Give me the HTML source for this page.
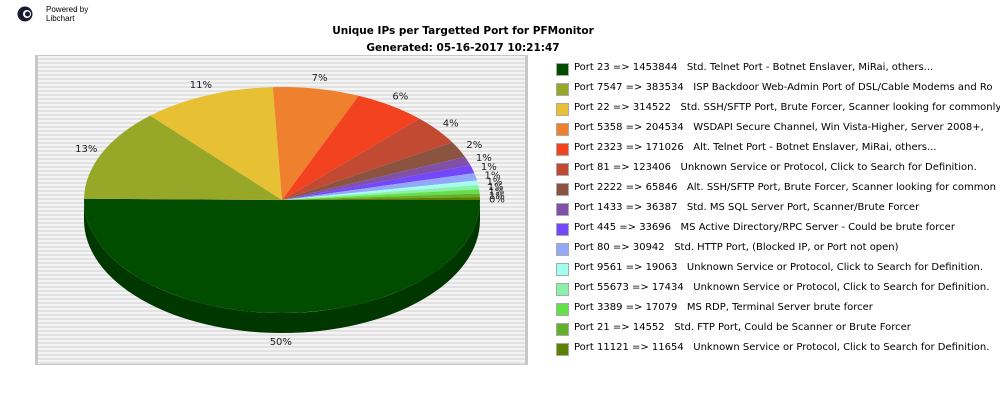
<!DOCTYPE html>
<html><head><meta charset="utf-8">
<style>
body{margin:0;width:1000px;height:400px;background:#fff;overflow:hidden;position:relative;font-family:"DejaVu Sans","Liberation Sans",sans-serif;}
#chart{position:absolute;left:0;top:0;}
#legend{position:absolute;left:0;top:0;width:1000px;height:400px;overflow:hidden;}
.lg{position:absolute;left:556px;font-size:10px;white-space:pre;color:#000;}
.sw{position:absolute;left:0;top:0;width:11px;height:11px;border:1px solid #aaa;}
.lt{position:absolute;left:18px;top:-1px;}
</style></head>
<body>
<div style="position:absolute;left:17px;top:6px;width:16px;height:16px;">
 <svg width="16" height="16"><circle cx="8" cy="8" r="7.5" fill="#1a1a2e"/><circle cx="10" cy="8" r="4" fill="#fff"/><circle cx="10.5" cy="8" r="2.5" fill="#1a1a2e"/></svg>
</div>
<div style="position:absolute;left:46px;top:5px;font-size:8px;line-height:9px;font-family:'Liberation Sans',sans-serif;">Powered by<br>Libchart</div>
<div style="position:absolute;left:0;width:926px;text-align:center;top:23px;font-size:10.5px;font-weight:bold;line-height:17px;">Unique IPs per Targetted Port for PFMonitor<br>Generated: 05-16-2017 10:21:47</div>
<svg id="chart" width="1000" height="400">
 <defs><pattern id="stripe" width="4" height="4" patternUnits="userSpaceOnUse"><rect width="4" height="4" fill="#f4f4f4"/><rect y="2" width="4" height="2" fill="#e2e2e2"/></pattern></defs>
 <rect x="35" y="55" width="493" height="310" fill="url(#stripe)"/>
 <rect x="35" y="55" width="3" height="310" fill="#c8c8c8"/>
 <rect x="525" y="55" width="3" height="310" fill="#c8c8c8"/>
 <rect x="35" y="55" width="493" height="1" fill="#c8c8c8"/>
 <rect x="35" y="364" width="493" height="1" fill="#c8c8c8"/>
 <g id="sides"></g><g id="tops"></g><g id="labels"></g>
</svg>
<div id="legend"></div>
<script>
const ports=["23","7547","22","5358","2323","81","2222","1433","445","80","9561","55673","3389","21","11121"];
const values=[1453844,383534,314522,204534,171026,123406,65846,36387,33696,30942,19063,17434,17079,14552,11654];
const descs=["Std. Telnet Port - Botnet Enslaver, MiRai, others...","ISP Backdoor Web-Admin Port of DSL/Cable Modems and Ro","Std. SSH/SFTP Port, Brute Forcer, Scanner looking for commonly","WSDAPI Secure Channel, Win Vista-Higher, Server 2008+,","Alt. Telnet Port - Botnet Enslaver, MiRai, others...","Unknown Service or Protocol, Click to Search for Definition.","Alt. SSH/SFTP Port, Brute Forcer, Scanner looking for common","Std. MS SQL Server Port, Scanner/Brute Forcer","MS Active Directory/RPC Server - Could be brute forcer","Std. HTTP Port, (Blocked IP, or Port not open)","Unknown Service or Protocol, Click to Search for Definition.","Unknown Service or Protocol, Click to Search for Definition.","MS RDP, Terminal Server brute forcer","Std. FTP Port, Could be Scanner or Brute Forcer","Unknown Service or Protocol, Click to Search for Definition."];
const colors=["#004d00","#97a828","#e8c034","#ef802d","#f2421f","#c24a32","#8b5440","#8150a8","#7348fa","#93a8f8","#a0fff0","#8cf0a8","#66e04a","#63b02a","#5e8000"];
const cx=282,cy=200,rx=198,ry=113,depth=20;
const NS="http://www.w3.org/2000/svg";
const total=values.reduce((a,b)=>a+b,0);
function pt(a,dy){return [cx+rx*Math.cos(a),cy+ry*Math.sin(a)+(dy||0)];}
function dark(c){const n=parseInt(c.slice(1),16);const f=0.7;return "rgb("+Math.round((n>>16)*f)+","+Math.round(((n>>8)&255)*f)+","+Math.round((n&255)*f)+")";}
const sides=document.getElementById('sides'),tops=document.getElementById('tops'),labels=document.getElementById('labels');
let a=0;
values.forEach((v,i)=>{
  const span=v/total*2*Math.PI,a1=a,a2=a+span;a=a2;
  const s1=Math.max(a1,0),s2=Math.min(a2,Math.PI);
  if(s2>s1){
    const p1=pt(s1),p2=pt(s2),p3=pt(s2,depth),p4=pt(s1,depth);
    const sp=document.createElementNS(NS,'path');
    sp.setAttribute('d',`M${p1}A${rx},${ry} 0 0 1 ${p2}L${p3}A${rx},${ry} 0 0 0 ${p4}Z`);
    sp.setAttribute('fill',dark(colors[i]));
    
    
    sides.appendChild(sp);
  }
  const q1=pt(a1),q2=pt(a2);
  const tp=document.createElementNS(NS,'path');
  tp.setAttribute('d',`M${cx},${cy}L${q1}A${rx},${ry} 0 ${span>Math.PI?1:0} 1 ${q2}Z`);
  tp.setAttribute('fill',colors[i]);
  
  
  tops.appendChild(tp);
  const m=(a1+a2)/2;
  const lx=cx+(rx+17)*Math.cos(m),ly=cy+(ry+12)*Math.sin(m)+(Math.sin(m)>0?depth*Math.sin(m)*0.8:0)+4;
  const t=document.createElementNS(NS,'text');
  t.setAttribute('x',lx);t.setAttribute('y',ly);
  t.setAttribute('text-anchor','middle');
  t.setAttribute('font-size','10');
  t.setAttribute('font-family','DejaVu Sans, Liberation Sans, sans-serif');
  t.setAttribute('fill','#222');
  t.textContent=Math.round(v/total*100)+'%';
  
  
  labels.appendChild(t);
});
const lg=document.getElementById('legend');
ports.forEach((p,i)=>{
  const d=document.createElement('div');
  d.className='lg';d.style.top=(63+i*20)+'px';
  
  
  const s=document.createElement('div');s.className='sw';s.style.background=colors[i];
  
  
  const t=document.createElement('span');t.className='lt';
  t.textContent='Port '+p+' => '+values[i]+'   '+descs[i];
  
  
  d.appendChild(s);d.appendChild(t);lg.appendChild(d);
});
</script>
</body></html>
